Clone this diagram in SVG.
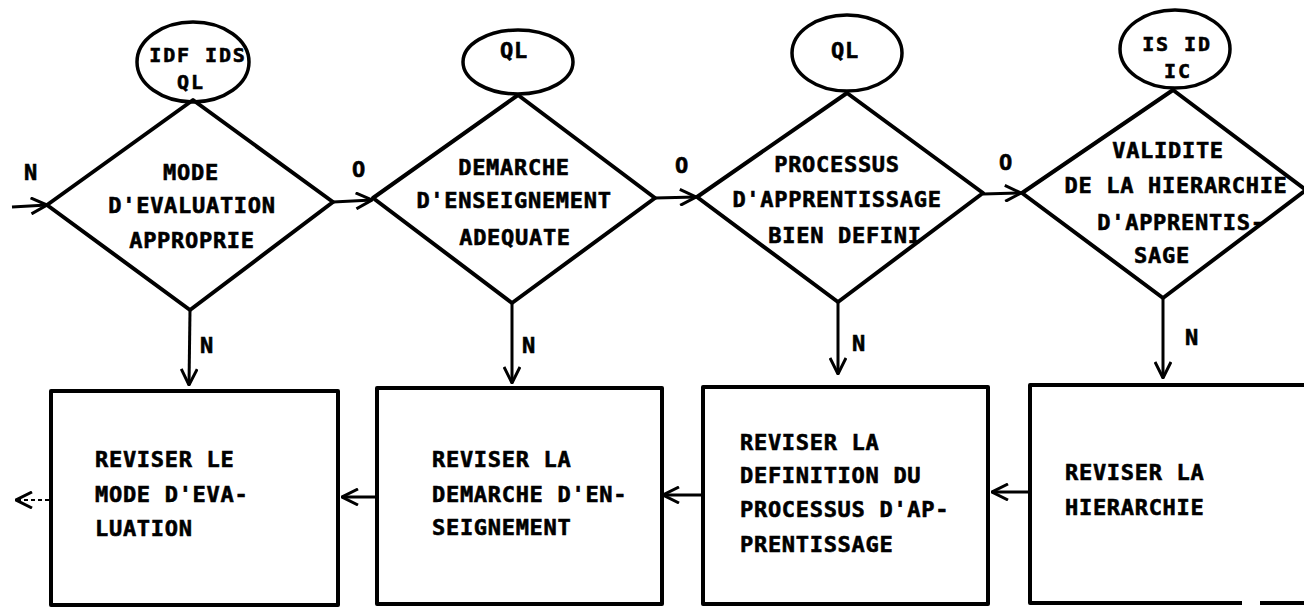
<svg xmlns="http://www.w3.org/2000/svg" width="1304" height="608" viewBox="0 0 1304 608">
<style>
.bg{fill:#fff}
.shape{fill:none;stroke:#000;stroke-width:4;stroke-linejoin:round}
.ell{fill:none;stroke:#000;stroke-width:3.5}
.conn{fill:none;stroke:#000;stroke-width:3}
.dash{fill:none;stroke:#000;stroke-width:2;stroke-dasharray:4 3}
text{font-family:"DejaVu Sans Mono","Liberation Mono",monospace;font-weight:bold;font-size:22px;letter-spacing:0.7px;fill:#000;stroke:#000;stroke-width:0.6}
.c{text-anchor:middle}
.s{font-size:20px;letter-spacing:1.9px}
</style>
<defs>
<marker id="ah" viewBox="0 0 18 18" refX="17" refY="9" markerWidth="18" markerHeight="18" markerUnits="userSpaceOnUse" orient="auto">
<path d="M1,1 L17,9 L1,17" fill="none" stroke="#000" stroke-width="3"/>
</marker>
</defs>
<rect class="bg" x="0" y="0" width="1304" height="608"/>

<g id="e1"><ellipse class="ell" cx="193" cy="62" rx="56" ry="40"/><text class="c s" x="198" y="62">IDF IDS</text><text class="c s" x="191" y="89">QL</text></g>
<g id="e2"><ellipse class="ell" cx="518" cy="62" rx="55" ry="32"/><text class="c" x="514" y="58">QL</text></g>
<g id="e3"><ellipse class="ell" cx="847" cy="53" rx="55" ry="38"/><text class="c" x="845" y="58">QL</text></g>
<g id="e4"><ellipse class="ell" cx="1175" cy="49" rx="55" ry="39"/><text class="c s" x="1177" y="51">IS ID</text><text class="c s" x="1178" y="78">IC</text></g>

<g id="d1"><polygon class="shape" points="193,100 333,202 190,310 47,205"/>
<text class="c" x="191" y="180">MODE</text><text class="c" x="192" y="213">D'EVALUATION</text><text class="c" x="192" y="248">APPROPRIE</text></g>
<g id="d2"><polygon class="shape" points="518,95 655,198 512,303 373,198"/>
<text class="c" x="514" y="175">DEMARCHE</text><text class="c" x="514" y="208">D'ENSEIGNEMENT</text><text class="c" x="515" y="245">ADEQUATE</text></g>
<g id="d3"><polygon class="shape" points="847,93 983,193 838,302 697,197"/>
<text class="c" x="837" y="172">PROCESSUS</text><text class="c" x="837" y="207">D'APPRENTISSAGE</text><text class="c" x="845" y="243">BIEN DEFINI</text></g>
<g id="d4"><polygon class="shape" points="1173,90 1306,190 1163,298 1022,193"/>
<text class="c" x="1168" y="158">VALIDITE</text><text class="c" x="1176" y="193">DE LA HIERARCHIE</text><text class="c" x="1181" y="230">D'APPRENTIS-</text><text class="c" x="1162" y="263">SAGE</text></g>

<g id="b1"><rect class="shape" x="51" y="391" width="287" height="214"/>
<text x="95" y="467">REVISER LE</text><text x="95" y="502">MODE D'EVA-</text><text x="95" y="536">LUATION</text></g>
<g id="b2"><rect class="shape" x="377" y="388" width="285" height="216"/>
<text x="432" y="467">REVISER LA</text><text x="432" y="502">DEMARCHE D'EN-</text><text x="432" y="535">SEIGNEMENT</text></g>
<g id="b3"><rect class="shape" x="703" y="387" width="285" height="217"/>
<text x="740" y="450">REVISER LA</text><text x="740" y="483">DEFINITION DU</text><text x="740" y="517">PROCESSUS D'AP-</text><text x="740" y="552">PRENTISSAGE</text></g>
<g id="b4"><path class="shape" d="M1312,385 H1030 V603 H1242 M1260,603 H1312"/>
<text x="1065" y="480">REVISER LA</text><text x="1065" y="515">HIERARCHIE</text></g>

<g id="connectors">
<line class="conn" x1="12" y1="207" x2="47" y2="205" marker-end="url(#ah)"/>
<line class="conn" x1="333" y1="202" x2="372" y2="200" marker-end="url(#ah)"/>
<line class="conn" x1="655" y1="198" x2="696" y2="197" marker-end="url(#ah)"/>
<line class="conn" x1="983" y1="194" x2="1021" y2="193" marker-end="url(#ah)"/>
<line class="conn" x1="190" y1="310" x2="189" y2="385" marker-end="url(#ah)"/>
<line class="conn" x1="512" y1="303" x2="512" y2="383" marker-end="url(#ah)"/>
<line class="conn" x1="838" y1="302" x2="838" y2="374" marker-end="url(#ah)"/>
<line class="conn" x1="1163" y1="298" x2="1163" y2="378" marker-end="url(#ah)"/>
<line class="conn" x1="377" y1="497" x2="342" y2="497" marker-end="url(#ah)"/>
<line class="conn" x1="703" y1="495" x2="663" y2="495" marker-end="url(#ah)"/>
<line class="conn" x1="1030" y1="492" x2="992" y2="492" marker-end="url(#ah)"/>
<line class="dash" x1="49" y1="500" x2="16" y2="500" marker-end="url(#ah)"/>
<text class="c" x="31" y="180">N</text>
<text class="c" x="359" y="177">O</text>
<text class="c" x="682" y="173">O</text>
<text class="c" x="1006" y="170">O</text>
<text class="c" x="207" y="353">N</text>
<text class="c" x="529" y="353">N</text>
<text class="c" x="859" y="351">N</text>
<text class="c" x="1192" y="345">N</text>
</g>
</svg>
